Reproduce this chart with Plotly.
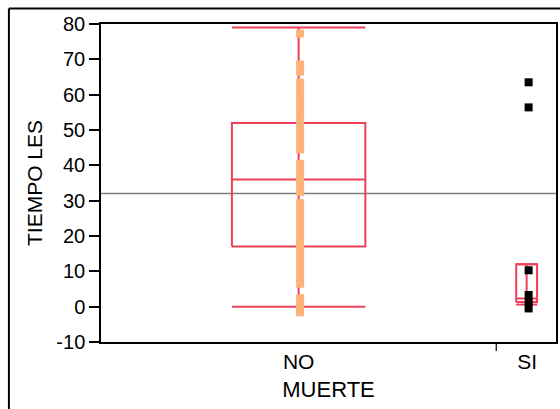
import plotly.graph_objects as go

# Groups of MUERTE and the horizontal span each one takes on the axis
categories = ["NO", "SI"]
group_spans = [(0, 397), (397, 457)]

# Y tick values and their labels
y_ticks = list(range(-10, 81, 10))
y_tick_labels = [str(v) for v in y_ticks]

# TIEMPO LES observations per group
no_values = [77.3, 68.5, 66.5,
             63.4, 61.2, 59.0, 56.8, 54.6, 52.4, 50.2, 48.0, 46.0, 44.5,
             40.4, 38.4, 36.4, 34.4, 32.5,
             29.3, 27.2, 25.1, 23.0, 20.9, 18.8, 16.7, 14.6, 12.5, 10.4, 8.4, 6.5,
             2.4, 0.4, -1.6]
si_values = [63.5, 56.4, 10.3, 3.3, 1.3, -0.5]

# Box-plot summaries: lower whisker, Q1, median, Q3, upper whisker
no_summary = dict(low=0, q1=17, med=36, q3=52, high=79)
si_summary = dict(low=0.6, q1=1.3, med=2.3, q3=12, high=12)
box_widths = [134, 21]

grand_mean = 32

RED = "rgb(238,64,88)"
ORANGE = "rgb(253,178,122)"

centers = [(a + b) / 2 for a, b in group_spans]
centers[1] += 1

fig = go.Figure()


def add_box(cx, half, s):
    x0, x1 = cx - half, cx + half
    # whisker stem
    fig.add_trace(go.Scatter(x=[cx, cx], y=[s["low"], s["high"]], mode="lines",
                             line=dict(color=RED, width=2), hoverinfo="skip",
                             showlegend=False))
    # box outline
    fig.add_trace(go.Scatter(x=[x0, x1, x1, x0, x0],
                             y=[s["q1"], s["q1"], s["q3"], s["q3"], s["q1"]],
                             mode="lines", line=dict(color=RED, width=2),
                             hoverinfo="skip", showlegend=False))
    # median and whisker caps
    for v in (s["med"], s["low"], s["high"]):
        fig.add_trace(go.Scatter(x=[x0, x1], y=[v, v], mode="lines",
                                 line=dict(color=RED, width=2), hoverinfo="skip",
                                 showlegend=False))


add_box(centers[0], box_widths[0] / 2, no_summary)
add_box(centers[1] - 0.5, box_widths[1] / 2, si_summary)

# Observations
fig.add_trace(go.Scatter(x=[centers[0] + 1.5] * len(no_values), y=no_values,
                         mode="markers",
                         marker=dict(symbol="square", size=8, color=ORANGE,
                                     line=dict(width=0)),
                         showlegend=False))
fig.add_trace(go.Scatter(x=[centers[1] + 1.5] * len(si_values), y=si_values,
                         mode="markers",
                         marker=dict(symbol="square", size=8, color="black",
                                     line=dict(width=0)),
                         showlegend=False))

# Grand mean line across the plot
fig.add_shape(type="line", xref="paper", x0=0, x1=1, yref="y",
              y0=grand_mean, y1=grand_mean,
              line=dict(color="rgb(128,128,128)", width=1.5), layer="below")

# Group boundary tick below the x axis
fig.add_shape(type="line", xref="x", x0=group_spans[0][1], x1=group_spans[0][1],
              yref="paper", y0=0, y1=-0.028, line=dict(color="black", width=1.2))

# Outer frame (top and left edges)
fig.add_shape(type="line", xref="paper", yref="paper", x0=-0.2024, x1=1.01,
              y0=1.049, y1=1.049, line=dict(color="black", width=2))
fig.add_shape(type="line", xref="paper", yref="paper", x0=-0.2024, x1=-0.2024,
              y0=1.049, y1=-0.23, line=dict(color="black", width=2))

fig.update_layout(
    width=560, height=409,
    margin=dict(l=101, r=2, t=24, b=67),
    paper_bgcolor="white", plot_bgcolor="white",
    font=dict(family="Liberation Sans, Arial, sans-serif", color="black"),
    xaxis=dict(range=[0, 457], tickvals=centers, ticktext=categories,
               ticks="", showgrid=False, zeroline=False,
               showline=True, linecolor="black", linewidth=1.5, mirror=True,
               tickfont=dict(size=21),
               title=dict(text="MUERTE", font=dict(size=22), standoff=10)),
    yaxis=dict(range=[-10, 80], tickvals=y_ticks, ticktext=y_tick_labels,
               ticks="outside", ticklen=10, tickwidth=1.5, tickcolor="black",
               showgrid=False, zeroline=False,
               showline=True, linecolor="black", linewidth=1.5, mirror=True,
               tickfont=dict(size=20),
               title=dict(text="TIEMPO LES", font=dict(size=21), standoff=8)),
)

fig.write_html("out.html")
